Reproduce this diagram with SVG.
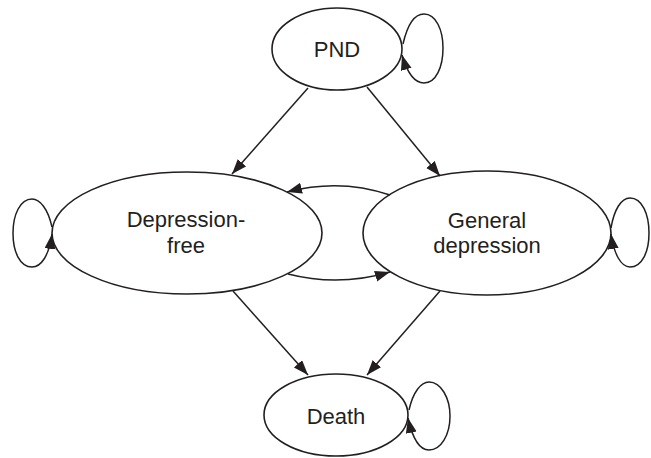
<svg xmlns="http://www.w3.org/2000/svg" width="651" height="458" viewBox="0 0 651 458">
<style>
.node{fill:#fff;stroke:#231f20;stroke-width:1.6}
.lbl{font-family:"Liberation Sans",Arial,sans-serif;font-size:22px;fill:#231f20;text-anchor:middle}
.edge{fill:none;stroke:#231f20;stroke-width:1.5;marker-end:url(#ah)}
</style>
<defs>
<marker id="ah" markerUnits="userSpaceOnUse" markerWidth="16" markerHeight="12" refX="15" refY="5.5" orient="auto">
<path d="M0,0 L15,5.5 L0,11 z" fill="#231f20"/>
</marker>
</defs>
<rect width="651" height="458" fill="#fff"/>
<g id="pnd">
<ellipse class="node" cx="337" cy="49" rx="65" ry="41"/>
<text class="lbl" x="337" y="57">PND</text>
</g>
<g id="depression-free">
<ellipse class="node" cx="187" cy="233" rx="135" ry="61"/>
<text class="lbl" x="186" y="227">Depression-</text>
<text class="lbl" x="186" y="253">free</text>
</g>
<g id="general-depression">
<ellipse class="node" cx="487" cy="233" rx="124" ry="62"/>
<text class="lbl" x="487" y="228">General</text>
<text class="lbl" x="487" y="253">depression</text>
</g>
<g id="death">
<ellipse class="node" cx="336" cy="415" rx="72" ry="41"/>
<text class="lbl" x="336" y="424">Death</text>
</g>
<g id="connectors">
<path class="edge" d="M308,88 L232,174"/>
<path class="edge" d="M367,87 L440,176"/>
<path class="edge" d="M390,195 Q340,178 287,192"/>
<path class="edge" d="M288,274 Q339,287 390,272"/>
<path class="edge" d="M233,291 L308,375"/>
<path class="edge" d="M440,291 L367,375"/>
<path class="edge" d="M403,44 C408,22 416,14 424,14 C436,14 443,30 443,48 C443,67 436,83 424,83 C414,83 407,72 402,55"/>
<path class="edge" d="M52,227 C48,209 40,199 32,199 C20,199 13,215 13,233 C13,252 20,267 32,267 C41,267 49,256 52,234"/>
<path class="edge" d="M611,228 C614,210 621,198 630,198 C642,198 649,214 649,233 C649,252 642,267 630,267 C621,267 614,254 611,234"/>
<path class="edge" d="M409,410 C413,392 421,382 429,382 C441,382 450,398 450,416 C450,435 441,450 429,450 C419,450 412,436 408,418"/>
</g>
</svg>
